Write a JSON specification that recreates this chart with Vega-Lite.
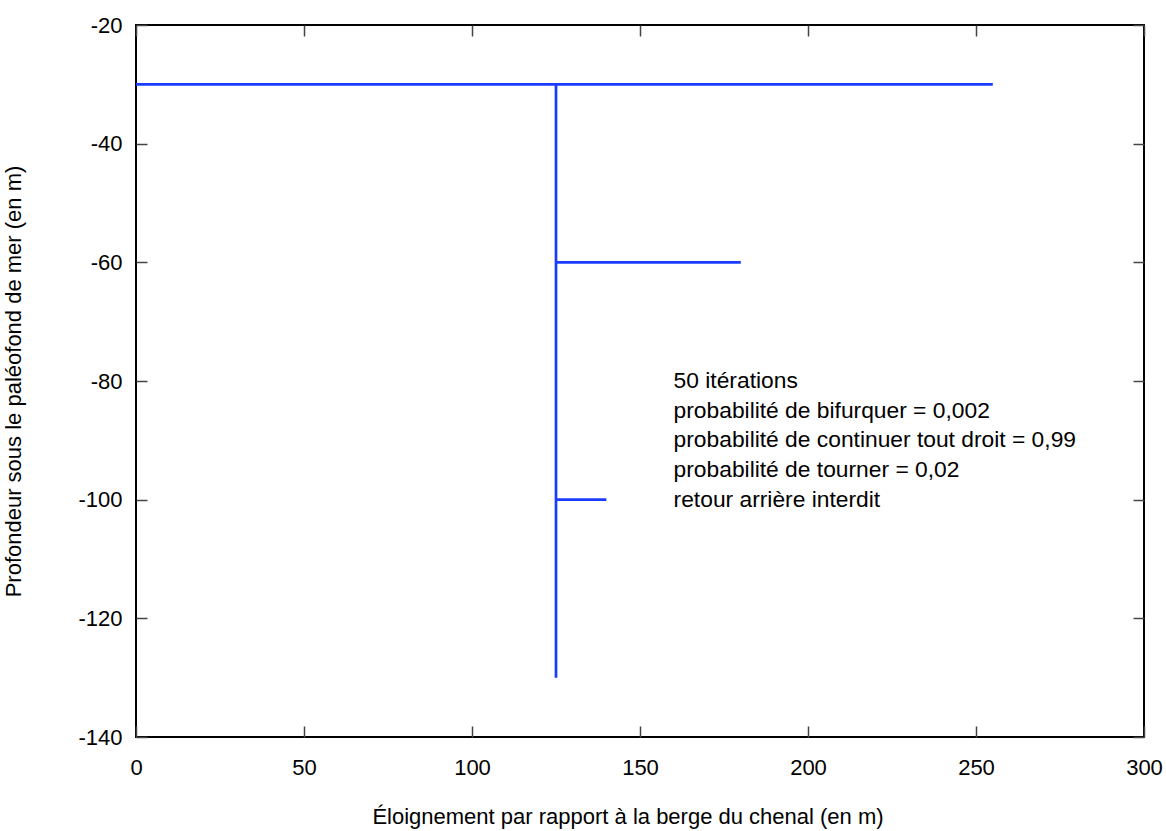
{
  "$schema": "https://vega.github.io/schema/vega-lite/v6.json",
  "autosize": "none",
  "width": 1008,
  "height": 712,
  "padding": {"left": 136, "top": 25, "right": 22, "bottom": 94},
  "background": "white",
  "config": {
    "view": {"stroke": "#000", "strokeWidth": 2},
    "font": "Liberation Sans",
    "axis": {
      "labelFont": "Liberation Sans",
      "titleFont": "Liberation Sans",
      "labelFontSize": 22,
      "titleFontSize": 22,
      "titleFontWeight": "normal",
      "labelColor": "#000",
      "titleColor": "#000",
      "grid": false,
      "domain": false,
      "tickColor": "#444",
      "tickWidth": 1.5,
      "tickSize": 11,
      "labelFlush": false,
      "labelOverlap": false,
      "labelExpr": "toString(datum.value)"
    }
  },
  "datasets": {
    "paths": [
      {"x": 0, "y": -30, "x2": 255, "y2": -30},
      {"x": 125, "y": -30, "x2": 125, "y2": -130},
      {"x": 125, "y": -60, "x2": 180, "y2": -60},
      {"x": 125, "y": -100, "x2": 140, "y2": -100}
    ],
    "notes": [
      {"x": 160, "y": -80, "text": "50 itérations"},
      {"x": 160, "y": -85, "text": "probabilité de bifurquer = 0,002"},
      {"x": 160, "y": -90, "text": "probabilité de continuer tout droit = 0,99"},
      {"x": 160, "y": -95, "text": "probabilité de tourner = 0,02"},
      {"x": 160, "y": -100, "text": "retour arrière interdit"}
    ]
  },
  "layer": [
    {
      "data": {"name": "paths"},
      "mark": {"type": "rule", "color": "#1a3cff", "strokeWidth": 2.7},
      "encoding": {
        "x": {
          "field": "x", "type": "quantitative",
          "scale": {"domain": [0, 300], "nice": false, "zero": false},
          "axis": {
            "orient": "bottom",
            "offset": -11,
            "values": [0, 50, 100, 150, 200, 250, 300],
            "labelPadding": 20,
            "title": "Éloignement par rapport à la berge du chenal (en m)",
            "titleX": 491.5,
            "titleAlign": "center",
            "titlePadding": 28
          }
        },
        "x2": {"field": "x2"},
        "y": {
          "field": "y", "type": "quantitative",
          "scale": {"domain": [-140, -20], "nice": false, "zero": false},
          "axis": {
            "orient": "left",
            "offset": -11,
            "values": [-140, -120, -100, -80, -60, -40, -20],
            "labelPadding": 14,
            "title": "Profondeur sous le paléofond de mer (en m)",
            "titlePadding": 52
          }
        },
        "y2": {"field": "y2"}
      }
    },
    {
      "data": {"name": "notes"},
      "mark": {"type": "text", "align": "left", "baseline": "middle", "fontSize": 22.8, "font": "Liberation Sans", "color": "#000"},
      "encoding": {
        "x": {
          "field": "x", "type": "quantitative",
          "axis": {
            "orient": "top",
            "offset": -11,
            "values": [0, 50, 100, 150, 200, 250, 300],
            "labels": false,
            "title": null
          }
        },
        "y": {
          "field": "y", "type": "quantitative",
          "axis": {
            "orient": "right",
            "offset": -11,
            "values": [-140, -120, -100, -80, -60, -40, -20],
            "labels": false,
            "title": null
          }
        },
        "text": {"field": "text"}
      }
    }
  ],
  "resolve": {"axis": {"x": "independent", "y": "independent"}}
}
